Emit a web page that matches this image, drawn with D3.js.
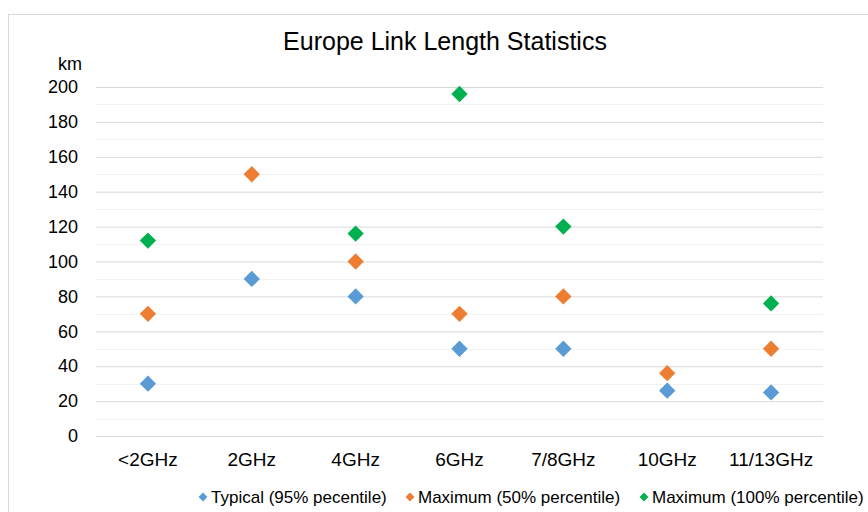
<!DOCTYPE html>
<html>
<head>
<meta charset="utf-8">
<title>index</title>
<script src="https://d3js.org/d3.v7.min.js"></script>
<style>
	body { margin:0; background:#fff; }
	svg { display:block; font-family:"Liberation Sans", Arial, sans-serif; }
</style>
</head>
<body>
<script>

var categories = ["<2GHz","2GHz","4GHz","6GHz","7/8GHz","10GHz","11/13GHz"];
var typical  = [30, 90, 80, 50, 50, 26, 25];
var max50    = [70, 150, 100, 70, 80, 36, 50];
var max100   = [112, null, 116, 196, 120, null, 76];
var yTicks   = [0,20,40,60,80,100,120,140,160,180,200];
var seriesNames  = ["Typical (95% pecentile)","Maximum (50% percentile)","Maximum (100% percentile)"];
var seriesColors = ["#5b9bd5","#ed7d31","#00b050"];

var width = 868, height = 512;
var margin = {left:96, right:45, top:87, bottom:76};

var svg = d3.select("body").append("svg").attr("width",width).attr("height",height);

// chart border
svg.append("rect").attr("x",8.5).attr("y",14.5).attr("width",width).attr("height",height)
	.attr("fill","none").attr("stroke","#d9d9d9");

var x = d3.scaleBand().domain(categories).range([margin.left, width-margin.right]);
var y = d3.scaleLinear().domain([0,200]).range([height-margin.bottom, margin.top]);

// minor grid
svg.append("g").selectAll("line").data(d3.range(10,200,20)).enter().append("line")
	.attr("x1",margin.left).attr("x2",width-margin.right)
	.attr("y1",function(d){ return Math.round(y(d))+0.5; })
	.attr("y2",function(d){ return Math.round(y(d))+0.5; })
	.attr("stroke","#f2f2f2");

// y axis (major grid + labels)
var yAxis = svg.append("g").attr("transform","translate("+margin.left+",0)")
	.call(d3.axisLeft(y).tickValues(yTicks).tickSize(-(width-margin.left-margin.right)).tickPadding(18));
yAxis.select(".domain").remove();
yAxis.selectAll(".tick line").attr("stroke","#d9d9d9");
yAxis.selectAll(".tick text").attr("font-size","18px").attr("fill","#000");

// x axis labels
var xAxis = svg.append("g").attr("transform","translate(0,"+(height-margin.bottom)+")")
	.call(d3.axisBottom(x).tickSize(0).tickPadding(17));
xAxis.select(".domain").remove();
xAxis.selectAll(".tick text").attr("font-size","19px").attr("fill","#000");

svg.append("text").attr("x",82).attr("y",70).attr("text-anchor","end")
	.attr("font-size","18px").text("km");

svg.append("text").attr("x",445).attr("y",50).attr("text-anchor","middle")
	.attr("font-size","25px").attr("fill","#000").text("Europe Link Length Statistics");

// points
var diamond = d3.symbol().type(d3.symbolDiamond2).size(170);
var allSeries = [typical, max50, max100];
allSeries.forEach(function(vals, i) {
	svg.append("g").selectAll("path")
		.data(vals.map(function(v, j){ return {cat:categories[j], v:v}; }).filter(function(d){ return d.v != null; }))
		.enter().append("path")
		.attr("d", diamond)
		.attr("transform", function(d){ return "translate("+(x(d.cat)+x.bandwidth()/2)+","+y(d.v)+")"; })
		.attr("fill", seriesColors[i]);
});

// legend
var legendX = [203, 410, 644];
var legendSym = d3.symbol().type(d3.symbolDiamond2).size(50);
var legend = svg.append("g");
seriesNames.forEach(function(name, i) {
	legend.append("path").attr("d",legendSym)
		.attr("transform","translate("+legendX[i]+",497)")
		.attr("fill",seriesColors[i]);
	legend.append("text").attr("x",legendX[i]+8).attr("y",503)
		.attr("font-size","17px").attr("fill","#000").text(name);
});

</script>
</body>
</html>
